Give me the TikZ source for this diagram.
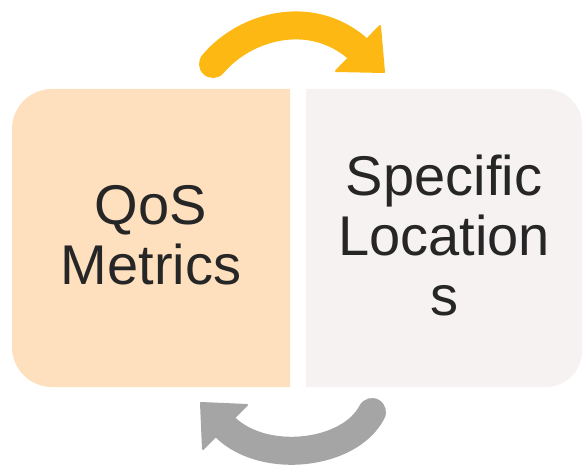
\documentclass[tikz,border=0pt]{standalone}
\usepackage{fontspec}
\setmainfont{Liberation Sans}
\definecolor{peach}{HTML}{FEDFBE}
\definecolor{pale}{HTML}{F6F2F1}
\definecolor{arrorange}{HTML}{FDB813}
\definecolor{arrgray}{HTML}{A5A5A5}
\definecolor{txt}{HTML}{262626}
\tikzset{
  lbl/.style={align=center, text=txt, font=\fontsize{56}{60}\selectfont, inner sep=0pt},
  band/.style={line width=28pt, line cap=round},
  headtri/.style={line width=2pt, line join=round},
}
\begin{document}
\begin{tikzpicture}[x=1pt,y=-1pt]
\useasboundingbox (0,0) rectangle (583,465);
% left box
\fill[peach] (290,89) [rounded corners=40pt] -- (12,89) -- (12,387) [sharp corners] -- (290,387) -- cycle;
% right box
\fill[pale] (306,89) [rounded corners=36pt] -- (582,89) -- (582,387) [sharp corners] -- (306,387) -- cycle;
\node[lbl] (qos) at (151,235) {QoS\\Metrics};
\node[lbl] (loc) at (444,235) {Specific\\Location\\s};
% top orange arrow
\coordinate (ot) at (213,64);
\coordinate (oe) at (357,48);
\draw[band, arrorange] (ot) .. controls (245,26) and (310,8) .. (oe);
\filldraw[headtri, arrorange] (380,26) -- (384,72) -- (336,71) -- cycle;
% bottom gray arrow
\coordinate (gt) at (372,412);
\coordinate (ge) at (226,428);
\draw[band, arrgray] (gt) .. controls (350,455) and (265,465) .. (ge);
\filldraw[headtri, arrgray] (201,403) -- (247,405) -- (203,449) -- cycle;
\end{tikzpicture}
\end{document}
